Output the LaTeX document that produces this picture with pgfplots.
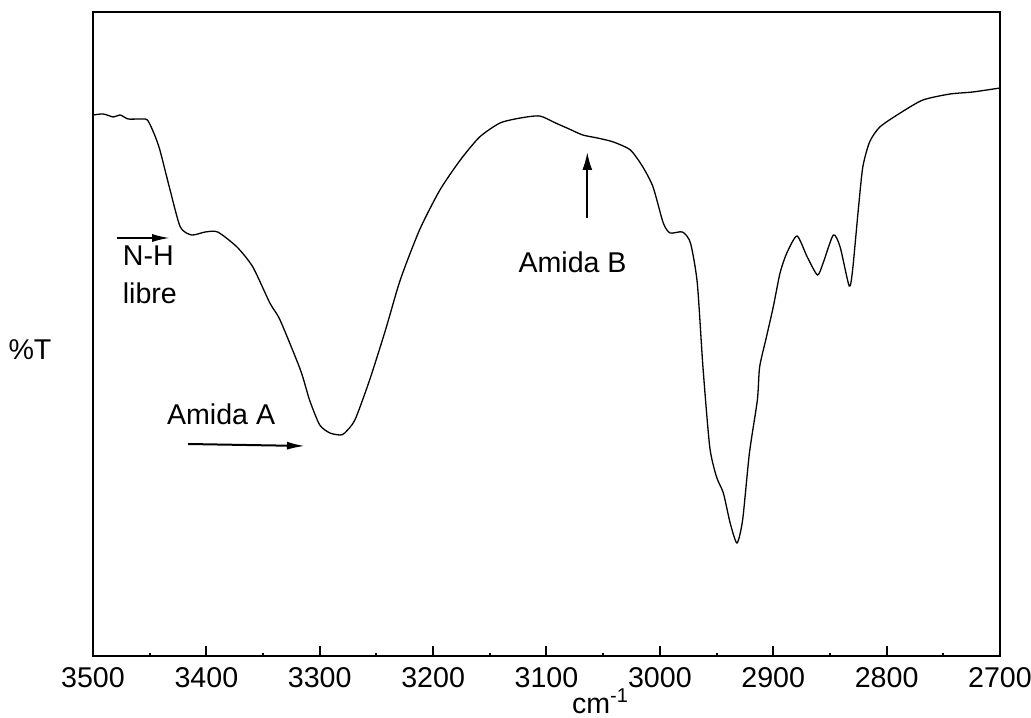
\documentclass[border=0pt]{standalone}
\usepackage{pgfplots}
\pgfplotsset{compat=1.18}
\usepackage{fontspec}
\setmainfont{Liberation Sans}
\usetikzlibrary{arrows.meta}
\pgfplotstableread{
x y
3500 541
3491 542
3482 539
3476 541
3469 537
3459 537
3452 536
3446 522
3441 506
3432 466
3423 429
3413 421
3401 424
3390 424
3373 409
3359 389
3344 353
3335 336
3317 286
3309 256
3300 231
3291 223
3282 221
3278 223
3269 236
3256 276
3242 326
3229 376
3212 426
3194 466
3176 496
3159 519
3141 533
3123 538
3106 540
3092 533
3080 527
3068 521
3055 518
3041 514
3026 506
3015 489
3006 469
2997 433
2991 423
2980 424
2973 413
2967 373
2962 289
2956 209
2950 179
2944 163
2938 133
2932 113
2927 136
2921 203
2914 256
2912 289
2906 319
2900 349
2894 383
2888 403
2879 420
2870 399
2861 381
2856 393
2847 421
2841 409
2833 370
2830 386
2825 446
2821 489
2815 514
2806 529
2788 543
2768 556
2744 562
2724 564
2700 568
}\spec
\begin{document}
\begin{tikzpicture}
\useasboundingbox (-46.5pt,-30.5pt) rectangle (469pt,328pt);
\begin{axis}[
  at={(0,0)}, anchor=south west,
  scale only axis, width=453.5pt, height=322pt,
  xmin=2700, xmax=3500, x dir=reverse,
  ymin=0, ymax=644,
  axis line style={line width=1pt},
  xtick={2700,2800,...,3500},
  minor x tick num=1,
  xtick pos=bottom,
  tick align=inside,
  major tick length=5pt, minor tick length=1.5pt,
  ytick=\empty,
  minor ytick={130,258,386,514},
  ytick pos=both,
  tick style={black, line width=1pt},
  /pgf/number format/1000 sep={},
  /pgf/number format/assume math mode=true,
  xticklabel style={font=\fontsize{14.3}{16}\selectfont, yshift=-2.3pt},
  clip=false,
]
\addplot[black, line width=0.65pt, smooth, tension=0.4] table[x=x,y=y] {\spec};
\draw[line width=1pt, -{Latex[length=9pt,width=4pt]}] (axis cs:3479,418) -- (axis cs:3432,418);
\node[anchor=west, font=\fontsize{14.3}{16}\selectfont, inner sep=0pt] at (axis cs:3474,400) {N-H};
\node[anchor=west, font=\fontsize{14.3}{16}\selectfont, inner sep=0pt] at (axis cs:3474,363) {libre};
\node[font=\fontsize{14.3}{16}\selectfont, inner sep=0pt] at (axis cs:3387,242) {Amida A};
\draw[line width=1pt, -{Latex[length=9pt,width=4pt]}] (axis cs:3416,212) -- (axis cs:3313,210);
\node[font=\fontsize{14.3}{16}\selectfont, inner sep=0pt] at (axis cs:3077,394) {Amida B};
\draw[line width=1pt, -{Latex[length=9pt,width=5pt]}] (axis cs:3064,438) -- (axis cs:3064,504);
\end{axis}
\node[font=\fontsize{14.3}{16}\selectfont] at (-31.5pt,153pt) {\%T};
\node[font=\fontsize{14.3}{16}\selectfont, inner sep=0pt] at (253.5pt,-22.5pt) {cm\raisebox{0.75ex}{\fontsize{10}{12}\selectfont -1}};
\end{tikzpicture}
\end{document}
